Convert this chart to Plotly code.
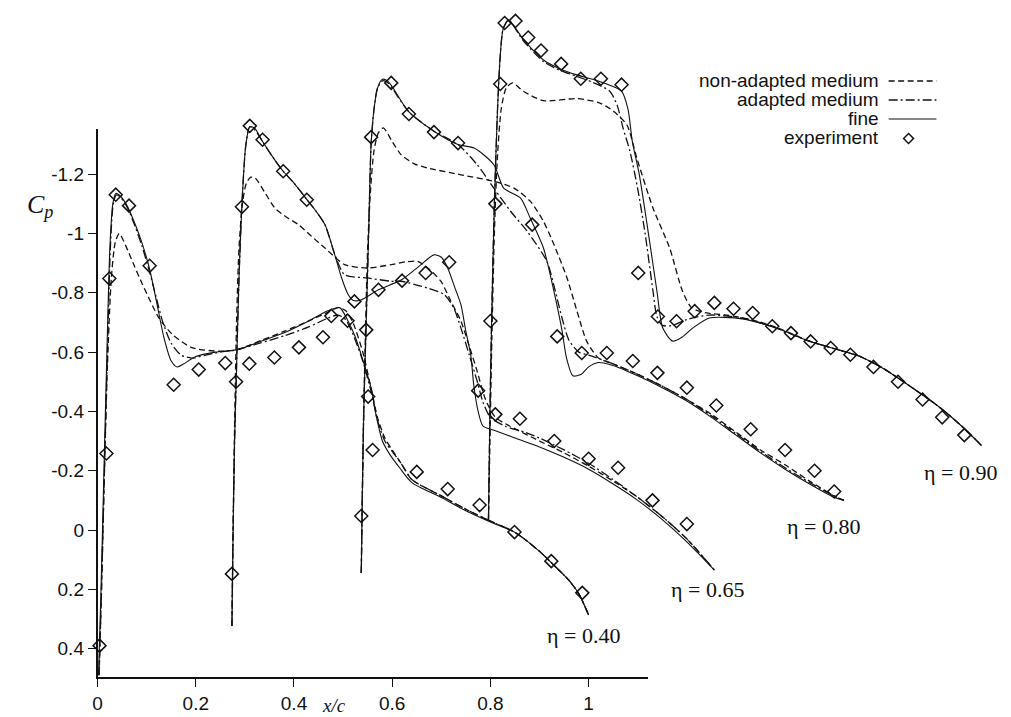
import plotly.graph_objects as go

# ---------------- data (x = plotted x/c position, cp = pressure coefficient) -------------
# eta = 0.40
x_non_040 = [0.003, 0.008, 0.014, 0.02, 0.028, 0.036, 0.044, 0.057, 0.075, 0.091, 0.108, 0.125, 0.152, 0.192, 0.247, 0.284, 0.334, 0.38, 0.43, 0.47, 0.49, 0.505, 0.52, 0.54, 0.558, 0.57, 0.585, 0.6, 0.62, 0.64, 0.7, 0.75, 0.8, 0.85, 0.9, 0.93, 0.96, 0.98, 1.0]
cp_non_040 = [0.49, 0.2, -0.2, -0.55, -0.85, -0.97, -1.0, -0.96, -0.89, -0.83, -0.77, -0.715, -0.66, -0.615, -0.603, -0.608, -0.64, -0.67, -0.705, -0.735, -0.75, -0.74, -0.7, -0.6, -0.47, -0.38, -0.31, -0.27, -0.22, -0.17, -0.115, -0.07, -0.03, 0.008, 0.072, 0.12, 0.17, 0.215, 0.287]
x_ada_040 = [0.003, 0.008, 0.014, 0.02, 0.026, 0.032, 0.038, 0.045, 0.06, 0.075, 0.09, 0.106, 0.12, 0.133, 0.15, 0.17, 0.192, 0.22, 0.25, 0.284, 0.33, 0.38, 0.43, 0.47, 0.49, 0.505, 0.52, 0.54, 0.558, 0.57, 0.585, 0.6, 0.62, 0.64, 0.7, 0.75, 0.8, 0.85, 0.9, 0.93, 0.96, 0.98, 1.0]
cp_ada_040 = [0.49, 0.2, -0.2, -0.6, -0.95, -1.1, -1.13, -1.125, -1.09, -1.03, -0.96, -0.87, -0.78, -0.7, -0.63, -0.59, -0.58, -0.59, -0.6, -0.608, -0.63, -0.655, -0.685, -0.715, -0.725, -0.71, -0.66, -0.57, -0.46, -0.37, -0.3, -0.265, -0.22, -0.17, -0.115, -0.07, -0.03, 0.008, 0.072, 0.12, 0.17, 0.215, 0.287]
x_fine_040 = [0.002, 0.007, 0.013, 0.019, 0.025, 0.031, 0.037, 0.044, 0.058, 0.072, 0.088, 0.106, 0.12, 0.135, 0.15, 0.162, 0.175, 0.2, 0.24, 0.284, 0.33, 0.38, 0.43, 0.47, 0.493, 0.51, 0.525, 0.537, 0.557, 0.568, 0.58, 0.595, 0.615, 0.64, 0.7, 0.75, 0.8, 0.85, 0.9, 0.93, 0.96, 0.98, 1.0]
cp_fine_040 = [0.49, 0.2, -0.2, -0.6, -0.95, -1.1, -1.135, -1.13, -1.1, -1.05, -0.98, -0.88, -0.77, -0.65, -0.57, -0.55, -0.56, -0.585, -0.6, -0.608, -0.635, -0.665, -0.705, -0.74, -0.75, -0.705, -0.65, -0.59, -0.48, -0.38, -0.3, -0.255, -0.21, -0.16, -0.11, -0.065, -0.027, 0.008, 0.072, 0.12, 0.17, 0.215, 0.287]
x_exp_040 = [0.004, 0.018, 0.024, 0.037, 0.064, 0.106, 0.155, 0.206, 0.26, 0.309, 0.36, 0.41, 0.459, 0.509, 0.551, 0.56, 0.65, 0.713, 0.778, 0.849, 0.924, 0.987]
cp_exp_040 = [0.39, -0.258, -0.848, -1.131, -1.094, -0.891, -0.49, -0.541, -0.563, -0.561, -0.582, -0.616, -0.65, -0.706, -0.45, -0.27, -0.196, -0.138, -0.084, 0.007, 0.105, 0.212]

# eta = 0.65
x_non_065 = [0.2736, 0.276, 0.279, 0.283, 0.288, 0.295, 0.303, 0.312, 0.321, 0.34, 0.361, 0.385, 0.409, 0.436, 0.463, 0.503, 0.55, 0.598, 0.63, 0.652, 0.675, 0.699, 0.72, 0.74, 0.757, 0.773, 0.79, 0.81, 0.84, 0.9, 0.95, 1.0, 1.05, 1.1, 1.15, 1.2, 1.256]
cp_non_065 = [0.324, 0.0, -0.35, -0.7, -0.95, -1.1, -1.17, -1.19, -1.187, -1.14, -1.086, -1.055, -1.03, -0.99, -0.951, -0.895, -0.884, -0.895, -0.905, -0.906, -0.88, -0.839, -0.77, -0.704, -0.62, -0.535, -0.44, -0.38, -0.35, -0.3, -0.26, -0.215, -0.165, -0.11, -0.045, 0.03, 0.135]
x_ada_065 = [0.2736, 0.276, 0.279, 0.283, 0.288, 0.294, 0.302, 0.31, 0.32, 0.336, 0.36, 0.378, 0.4, 0.426, 0.445, 0.463, 0.483, 0.503, 0.55, 0.598, 0.618, 0.672, 0.706, 0.725, 0.74, 0.757, 0.773, 0.785, 0.8, 0.83, 0.87, 0.9, 0.95, 1.0, 1.05, 1.1, 1.15, 1.2, 1.256]
cp_ada_065 = [0.324, 0.0, -0.3, -0.55, -0.85, -1.1, -1.3, -1.36, -1.35, -1.31, -1.25, -1.21, -1.17, -1.115, -1.075, -1.03, -0.93, -0.861, -0.85, -0.839, -0.839, -0.816, -0.794, -0.75, -0.681, -0.59, -0.502, -0.43, -0.38, -0.35, -0.33, -0.31, -0.27, -0.225, -0.17, -0.11, -0.045, 0.03, 0.135]
x_fine_065 = [0.2736, 0.276, 0.279, 0.283, 0.288, 0.294, 0.302, 0.31, 0.32, 0.336, 0.36, 0.378, 0.4, 0.426, 0.445, 0.463, 0.483, 0.497, 0.51, 0.52, 0.535, 0.572, 0.62, 0.655, 0.685, 0.7, 0.713, 0.727, 0.74, 0.75, 0.76, 0.766, 0.775, 0.785, 0.81, 0.85, 0.9, 0.95, 1.0, 1.05, 1.1, 1.15, 1.2, 1.256]
cp_fine_065 = [0.324, 0.0, -0.3, -0.55, -0.85, -1.1, -1.3, -1.36, -1.355, -1.31, -1.25, -1.21, -1.17, -1.115, -1.075, -1.03, -0.928, -0.85, -0.795, -0.775, -0.775, -0.81, -0.845, -0.89, -0.928, -0.92, -0.884, -0.82, -0.759, -0.67, -0.59, -0.489, -0.4, -0.35, -0.335, -0.31, -0.28, -0.245, -0.205, -0.155, -0.1, -0.035, 0.04, 0.135]
x_exp_065 = [0.2736, 0.282, 0.294, 0.31, 0.336, 0.378, 0.426, 0.476, 0.523, 0.572, 0.62, 0.668, 0.716, 0.775, 0.81, 0.86, 0.93, 1.0, 1.06, 1.13, 1.2]
cp_exp_065 = [0.148, -0.5, -1.09, -1.363, -1.316, -1.21, -1.114, -0.722, -0.771, -0.81, -0.841, -0.867, -0.903, -0.47, -0.39, -0.375, -0.3, -0.24, -0.21, -0.1, -0.02]

# eta = 0.80
x_non_080 = [0.537, 0.539, 0.542, 0.546, 0.55, 0.556, 0.563, 0.572, 0.582, 0.6, 0.618, 0.645, 0.672, 0.74, 0.807, 0.848, 0.881, 0.908, 0.93, 0.956, 0.976, 0.996, 1.02, 1.05, 1.1, 1.15, 1.2, 1.25, 1.3, 1.35, 1.4, 1.45, 1.5, 1.52]
cp_non_080 = [0.145, -0.1, -0.4, -0.7, -0.95, -1.15, -1.28, -1.34, -1.356, -1.31, -1.266, -1.235, -1.221, -1.198, -1.176, -1.153, -1.109, -1.041, -0.96, -0.85, -0.74, -0.637, -0.58, -0.56, -0.525, -0.485, -0.44, -0.39, -0.33, -0.27, -0.22, -0.165, -0.115, -0.1]
x_ada_080 = [0.537, 0.539, 0.542, 0.547, 0.552, 0.557, 0.563, 0.57, 0.58, 0.59, 0.6, 0.634, 0.685, 0.734, 0.773, 0.807, 0.841, 0.875, 0.915, 0.93, 0.945, 0.96, 0.98, 1.0, 1.05, 1.1, 1.15, 1.2, 1.25, 1.3, 1.35, 1.4, 1.45, 1.5, 1.52]
cp_ada_080 = [0.145, -0.1, -0.4, -0.7, -1.0, -1.3, -1.42, -1.49, -1.515, -1.51, -1.49, -1.41, -1.345, -1.3, -1.232, -1.153, -1.075, -1.007, -0.906, -0.82, -0.72, -0.64, -0.6, -0.59, -0.56, -0.525, -0.485, -0.44, -0.385, -0.325, -0.265, -0.21, -0.16, -0.115, -0.1]
x_fine_080 = [0.537, 0.539, 0.542, 0.547, 0.552, 0.557, 0.563, 0.57, 0.58, 0.59, 0.6, 0.634, 0.685, 0.734, 0.767, 0.807, 0.827, 0.861, 0.881, 0.908, 0.93, 0.945, 0.955, 0.968, 0.985, 1.0, 1.02, 1.05, 1.1, 1.15, 1.2, 1.25, 1.3, 1.35, 1.4, 1.45, 1.5, 1.52]
cp_fine_080 = [0.145, -0.1, -0.4, -0.7, -1.0, -1.3, -1.42, -1.49, -1.52, -1.515, -1.495, -1.41, -1.345, -1.3, -1.288, -1.232, -1.153, -1.12, -1.052, -0.951, -0.8, -0.68, -0.58, -0.52, -0.525, -0.55, -0.565, -0.555, -0.52, -0.48, -0.435, -0.38, -0.32, -0.26, -0.205, -0.155, -0.11, -0.1]
x_exp_080 = [0.537, 0.547, 0.557, 0.598, 0.634, 0.685, 0.734, 0.885, 0.936, 0.986, 1.037, 1.09, 1.14, 1.2, 1.26, 1.33, 1.4, 1.46, 1.5]
cp_exp_080 = [-0.047, -0.675, -1.325, -1.508, -1.403, -1.342, -1.305, -1.03, -0.653, -0.597, -0.597, -0.57, -0.53, -0.48, -0.42, -0.34, -0.27, -0.2, -0.13]

# eta = 0.90
x_non_090 = [0.796, 0.799, 0.803, 0.808, 0.814, 0.822, 0.832, 0.845, 0.867, 0.908, 0.976, 1.023, 1.05, 1.078, 1.098, 1.131, 1.165, 1.191, 1.21, 1.24, 1.28, 1.33, 1.38, 1.45, 1.516, 1.55, 1.6, 1.65, 1.71, 1.76, 1.8]
cp_non_090 = [-0.03, -0.3, -0.65, -1.0, -1.25, -1.42, -1.49, -1.508, -1.48, -1.448, -1.455, -1.44, -1.413, -1.366, -1.255, -1.086, -0.951, -0.806, -0.749, -0.732, -0.725, -0.71, -0.685, -0.637, -0.604, -0.587, -0.545, -0.49, -0.42, -0.35, -0.285]
x_ada_090 = [0.796, 0.799, 0.803, 0.808, 0.814, 0.82, 0.826, 0.837, 0.867, 0.908, 0.942, 0.976, 1.008, 1.043, 1.058, 1.07, 1.084, 1.1, 1.115, 1.131, 1.139, 1.15, 1.17, 1.2, 1.246, 1.313, 1.382, 1.449, 1.516, 1.55, 1.6, 1.65, 1.71, 1.76, 1.8]
cp_ada_090 = [-0.03, -0.4, -0.75, -1.1, -1.4, -1.6, -1.69, -1.72, -1.65, -1.58, -1.55, -1.53, -1.51, -1.48, -1.433, -1.356, -1.278, -1.15, -1.0, -0.806, -0.72, -0.69, -0.69, -0.71, -0.725, -0.715, -0.681, -0.637, -0.604, -0.587, -0.545, -0.49, -0.42, -0.35, -0.285]
x_fine_090 = [0.796, 0.799, 0.803, 0.808, 0.814, 0.82, 0.826, 0.837, 0.867, 0.908, 0.942, 0.976, 1.008, 1.043, 1.067, 1.08, 1.089, 1.103, 1.124, 1.139, 1.151, 1.171, 1.19, 1.212, 1.246, 1.313, 1.382, 1.449, 1.516, 1.55, 1.6, 1.65, 1.71, 1.76, 1.8]
cp_fine_090 = [-0.03, -0.4, -0.75, -1.1, -1.4, -1.6, -1.69, -1.72, -1.655, -1.585, -1.555, -1.535, -1.52, -1.5, -1.48, -1.42, -1.31, -1.2, -0.975, -0.806, -0.681, -0.637, -0.65, -0.681, -0.715, -0.712, -0.681, -0.637, -0.604, -0.587, -0.545, -0.49, -0.42, -0.35, -0.285]
x_exp_090 = [0.8, 0.81, 0.82, 0.829, 0.851, 0.877, 0.903, 0.944, 0.984, 1.025, 1.067, 1.101, 1.141, 1.179, 1.216, 1.256, 1.295, 1.334, 1.374, 1.412, 1.452, 1.493, 1.533, 1.58, 1.63, 1.68, 1.72, 1.765]
cp_exp_090 = [-0.705, -1.1, -1.504, -1.71, -1.717, -1.661, -1.617, -1.572, -1.522, -1.522, -1.502, -0.867, -0.72, -0.704, -0.738, -0.766, -0.746, -0.732, -0.687, -0.664, -0.636, -0.614, -0.591, -0.55, -0.5, -0.44, -0.38, -0.32]

x_tick_vals = [0, 0.2, 0.4, 0.6, 0.8, 1.0]
x_tick_text = ["0", "0.2", "0.4", "0.6", "0.8", "1"]
y_tick_vals = [-1.2, -1.0, -0.8, -0.6, -0.4, -0.2, 0.0, 0.2, 0.4]
y_tick_text = ["-1.2", "-1", "-0.8", "-0.6", "-0.4", "-0.2", "0", "0.2", "0.4"]
series_names = ["non-adapted medium", "adapted medium", "fine", "experiment"]
station_labels = ["η = 0.40", "η = 0.65", "η = 0.80", "η = 0.90"]

# ---------------- layout geometry (pixels) ----------------
W, H = 1011, 717
PX0, PXS = 85.0, 493.5      # pixel of x/c = 0, pixels per unit x/c
PY0, PYS = 522.0, 296.5     # pixel of Cp = 0, pixels per unit Cp (downwards)
X_AX_MAX, Y_AX_BOT, Y_AX_TOP = 1.12, 0.497, -1.352

def px(p):
    return p / W

def py(p):
    return 1 - p / H

DASH = "6px,3.5px"
DASHDOT = "9px,3px,2px,3px"
LW = 1.3
INK = "#111111"
SERIF = "Liberation Serif, Times New Roman, serif"
SANS = "Liberation Sans, Arial, sans-serif"

fig = go.Figure()

stations = [
    (x_non_040, cp_non_040, x_ada_040, cp_ada_040, x_fine_040, cp_fine_040, x_exp_040, cp_exp_040),
    (x_non_065, cp_non_065, x_ada_065, cp_ada_065, x_fine_065, cp_fine_065, x_exp_065, cp_exp_065),
    (x_non_080, cp_non_080, x_ada_080, cp_ada_080, x_fine_080, cp_fine_080, x_exp_080, cp_exp_080),
    (x_non_090, cp_non_090, x_ada_090, cp_ada_090, x_fine_090, cp_fine_090, x_exp_090, cp_exp_090),
]

for (xn, cn, xa, ca, xf, cf, xe, ce) in stations:
    fig.add_trace(go.Scatter(x=xn, y=cn, mode="lines", xaxis="x2", yaxis="y2", name=series_names[0],
                             line=dict(color=INK, width=LW, dash=DASH, shape="spline", smoothing=0.7),
                             showlegend=False, hoverinfo="skip"))
    fig.add_trace(go.Scatter(x=xa, y=ca, mode="lines", xaxis="x2", yaxis="y2", name=series_names[1],
                             line=dict(color=INK, width=LW, dash=DASHDOT, shape="spline", smoothing=0.7),
                             showlegend=False, hoverinfo="skip"))
    fig.add_trace(go.Scatter(x=xf, y=cf, mode="lines", xaxis="x2", yaxis="y2", name=series_names[2],
                             line=dict(color=INK, width=1.1, shape="spline", smoothing=0.7),
                             showlegend=False, hoverinfo="skip"))
    fig.add_trace(go.Scatter(x=xe, y=ce, mode="markers", xaxis="x2", yaxis="y2", name=series_names[3],
                             marker=dict(symbol="diamond-open", size=10, color=INK, line=dict(width=1.5, color=INK)),
                             showlegend=False, hoverinfo="skip"))

# invisible trace so the visible axes subplot exists
fig.add_trace(go.Scatter(x=[0.5], y=[0], mode="markers", marker=dict(opacity=0), showlegend=False, hoverinfo="skip"))

tick_font = dict(family=SANS, size=19, color=INK)
fig.update_layout(
    width=W, height=H,
    margin=dict(l=0, r=0, t=0, b=0),
    paper_bgcolor="white", plot_bgcolor="rgba(0,0,0,0)",
    showlegend=False,
    xaxis=dict(domain=[px(PX0), px(PX0 + X_AX_MAX * PXS)], range=[0, X_AX_MAX], anchor="y",
               showline=True, linecolor=INK, linewidth=1.6, showgrid=False, zeroline=False,
               ticks="outside", ticklen=8, tickwidth=1.4, tickcolor=INK,
               tickvals=x_tick_vals, ticktext=x_tick_text, tickfont=tick_font),
    yaxis=dict(domain=[py(PY0 + Y_AX_BOT * PYS), py(PY0 + Y_AX_TOP * PYS)], range=[Y_AX_BOT, Y_AX_TOP], anchor="x",
               showline=True, linecolor=INK, linewidth=1.6, showgrid=False, zeroline=False,
               ticks="outside", ticklen=8, tickwidth=1.4, tickcolor=INK,
               tickvals=y_tick_vals, ticktext=y_tick_text, tickfont=tick_font),
    xaxis2=dict(domain=[0, 1], range=[(0 - PX0) / PXS, (W - PX0) / PXS], anchor="y2", visible=False),
    yaxis2=dict(domain=[0, 1], range=[(H - PY0) / PYS, (0 - PY0) / PYS], anchor="x2", visible=False),
)

ann = []
# axis titles
ann.append(dict(x=px(27), y=py(198), xref="paper", yref="paper", showarrow=False,
                xanchor="center", yanchor="middle",
                text="<i>C<sub>p</sub></i>", font=dict(family=SERIF, size=26, color=INK)))
ann.append(dict(x=px(323), y=py(697), xref="paper", yref="paper", showarrow=False,
                xanchor="center", yanchor="middle",
                text="<i>x/c</i>", font=dict(family=SERIF, size=19, color=INK)))

# station labels
label_pos = [(573, 627), (698, 581), (815, 518), (952, 464)]
for (lx, ly), t in zip(label_pos, station_labels):
    ann.append(dict(x=px(lx), y=py(ly), xref="paper", yref="paper", showarrow=False, text=t,
                    xanchor="center", yanchor="middle",
                    font=dict(family=SERIF, size=22, color=INK)))

# legend
leg_rows = [72, 91, 110, 129.5]
leg_font = dict(family=SANS, size=19, color=INK)
for name, ry in zip(series_names, leg_rows):
    ann.append(dict(x=px(872), y=py(ry), xref="paper", yref="paper", xanchor="right", yanchor="middle",
                    showarrow=False, text=name, font=leg_font))
fig.update_layout(annotations=ann)

shapes = []
for dash, w, ry in [(DASH, LW, leg_rows[0]), (DASHDOT, LW, leg_rows[1]), ("solid", 1.1, leg_rows[2])]:
    shapes.append(dict(type="line", xref="paper", yref="paper", x0=px(880), x1=px(928), y0=py(ry + 1), y1=py(ry + 1),
                       line=dict(color=INK, width=w, dash=dash)))
cx, cy, r = 900, leg_rows[3] + 1, 5
shapes.append(dict(type="path", xref="paper", yref="paper",
                   path=f"M {px(cx - r)},{py(cy)} L {px(cx)},{py(cy - r)} L {px(cx + r)},{py(cy)} L {px(cx)},{py(cy + r)} Z",
                   line=dict(color=INK, width=1.5)))
fig.update_layout(shapes=shapes)

fig.write_html("out.html")
